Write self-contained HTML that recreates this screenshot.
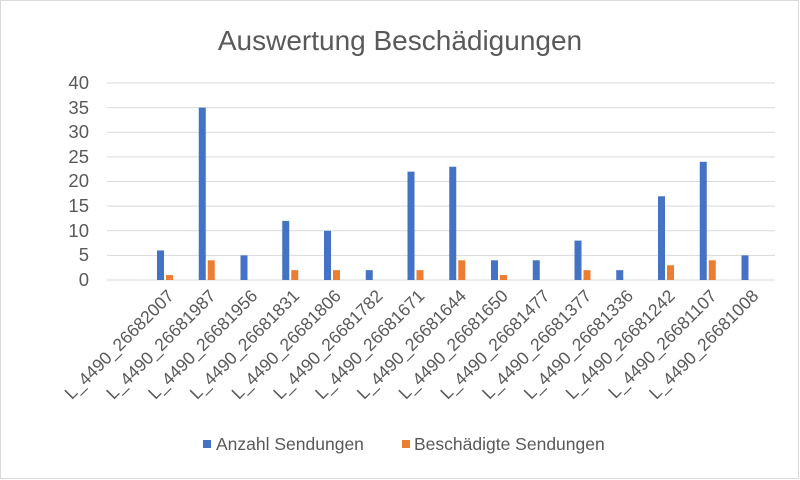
<!DOCTYPE html>
<html><head><meta charset="utf-8"><style>body{margin:0;background:#fff}svg{display:block}</style></head>
<body>
<svg width="800" height="480" xmlns="http://www.w3.org/2000/svg" font-family="Liberation Sans, sans-serif">
<rect x="0.5" y="0.5" width="798" height="478" fill="#fff" stroke="#d9d9d9"/>
<text x="400" y="50" font-size="28" fill="#595959" text-anchor="middle">Auswertung Beschädigungen</text>
<g stroke="#d9d9d9" stroke-width="1">
<line x1="107" x2="775" y1="83" y2="83"/><line x1="107" x2="775" y1="107.6" y2="107.6"/>
<line x1="107" x2="775" y1="132.2" y2="132.2"/><line x1="107" x2="775" y1="156.9" y2="156.9"/>
<line x1="107" x2="775" y1="181.5" y2="181.5"/><line x1="107" x2="775" y1="206.1" y2="206.1"/>
<line x1="107" x2="775" y1="230.7" y2="230.7"/><line x1="107" x2="775" y1="255.4" y2="255.4"/>
<line x1="107" x2="775" y1="280" y2="280"/>
</g>
<g font-size="18.5" fill="#595959" text-anchor="end">
<text x="89" y="89">40</text><text x="89" y="114">35</text><text x="89" y="138">30</text>
<text x="89" y="163">25</text><text x="89" y="187">20</text><text x="89" y="212">15</text>
<text x="89" y="237">10</text><text x="89" y="261">5</text><text x="89" y="286">0</text>
</g>
<g id="bars"></g>
<g id="labels" font-size="17.5" fill="#595959" text-anchor="end"></g>
<rect x="203" y="440" width="8" height="8" fill="#4472c4"/>
<text x="216" y="450" font-size="17.5" fill="#595959">Anzahl Sendungen</text>
<rect x="402" y="440" width="8" height="8" fill="#ed7d31"/>
<text x="414" y="450" font-size="17.5" fill="#595959">Beschädigte Sendungen</text>
<script>
var ids=["26682007","26681987","26681956","26681831","26681806","26681782","26681671","26681644","26681650","26681477","26681377","26681336","26681242","26681107","26681008"];
var a=[6,35,5,12,10,2,22,23,4,4,8,2,17,24,5],b=[1,4,0,2,2,0,2,4,1,0,2,0,3,4,0];
var s=4.925,z=280,ns="http://www.w3.org/2000/svg",g=document.getElementById("bars"),L=document.getElementById("labels");
for(var k=0;k<15;k++){var x=157+41.75*k;
[[a[k],x,"#4472c4"],[b[k],x+9,"#ed7d31"]].forEach(function(p){if(!p[0])return;var r=document.createElementNS(ns,"rect");r.setAttribute("x",p[1]);r.setAttribute("width",7);r.setAttribute("y",z-p[0]*s);r.setAttribute("height",p[0]*s);r.setAttribute("fill",p[2]);g.appendChild(r);});
var t=document.createElementNS(ns,"text");var tx=x+18,ty=297;t.setAttribute("x",tx);t.setAttribute("y",ty);t.setAttribute("transform","rotate(-45 "+tx+" "+ty+")");t.textContent="L_4490_"+ids[k];L.appendChild(t);}
</script>
</svg>
</body></html>
